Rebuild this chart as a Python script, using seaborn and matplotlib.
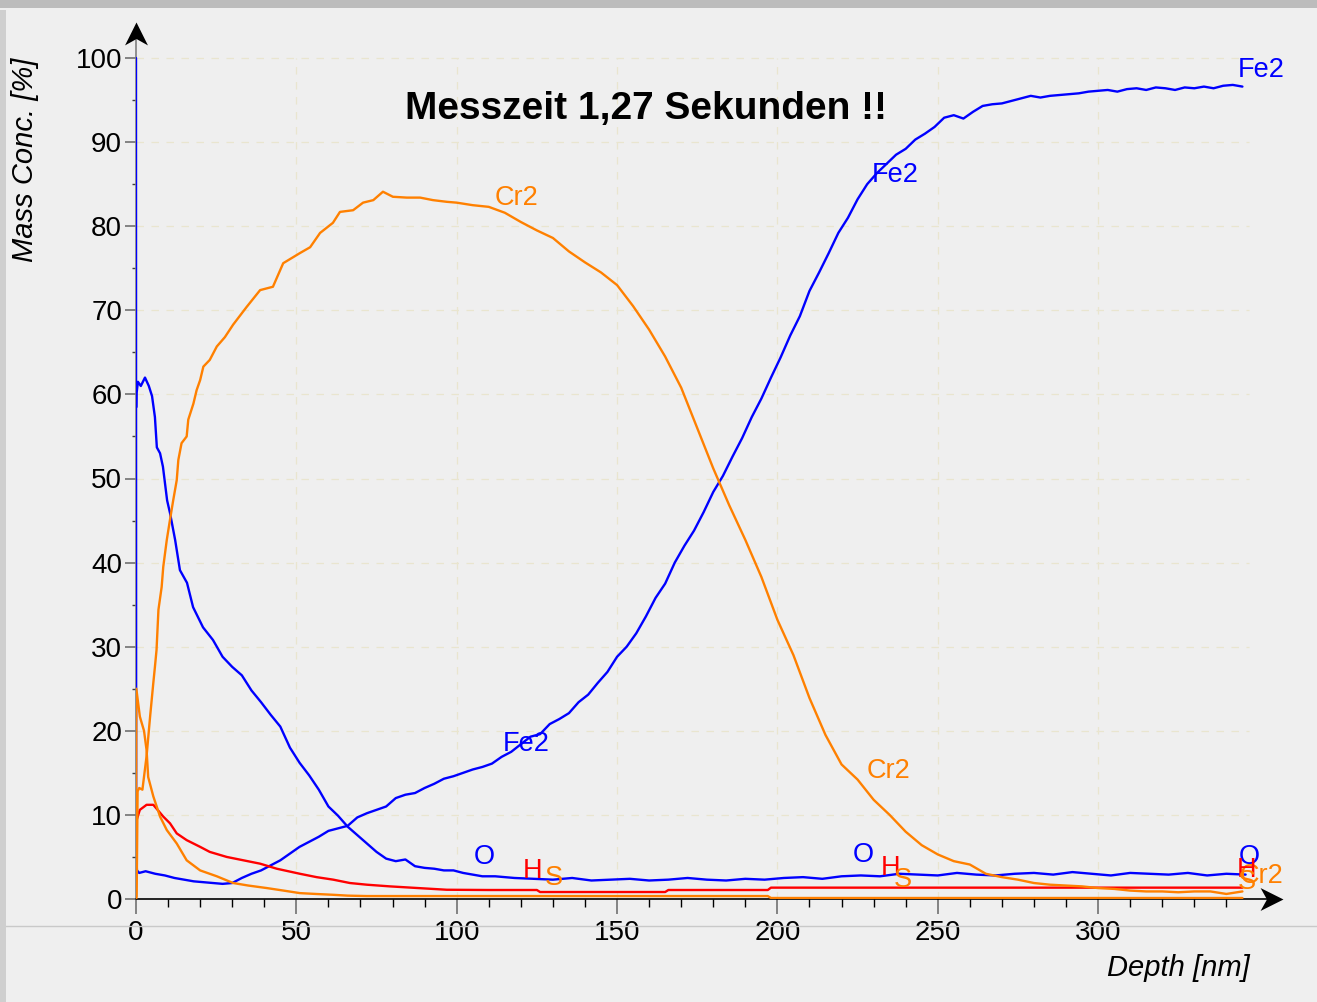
import numpy as np
import pandas as pd
import seaborn as sns
import matplotlib.pyplot as plt
from matplotlib.patches import Rectangle
from matplotlib.lines import Line2D
from matplotlib.path import Path

# ---------------- data: GDOES depth profile (mass concentration, %) ----------------
fe2_depth = [0, 0.05, 0.3, 1, 3] + list(range(6, 346, 3))
fe2_conc = [100, 5.2, 3.4, 3.1, 3.3,
            3.0, 2.8, 2.5, 2.3, 2.1, 2.0, 1.9, 1.8, 1.9, 2.5,
            3.0, 3.4, 4.0, 4.6, 5.4, 6.2, 6.8, 7.4, 8.1, 8.4,
            8.7, 9.7, 10.2, 10.6, 11.0, 12.0, 12.4, 12.6, 13.2, 13.7,
            14.3, 14.6, 15.0, 15.4, 15.7, 16.1, 16.9, 17.5, 18.4, 19.3,
            19.6, 20.8, 21.4, 22.1, 23.4, 24.3, 25.7, 27.0, 28.8, 30.0,
            31.6, 33.6, 35.8, 37.5, 40.0, 42.0, 43.8, 46.0, 48.4, 50.3,
            52.6, 54.8, 57.3, 59.5, 62.0, 64.4, 67.0, 69.3, 72.3, 74.5,
            76.8, 79.2, 81.0, 83.2, 85.0, 86.3, 87.4, 88.5, 89.2, 90.3,
            91.0, 91.8, 92.9, 93.2, 92.8, 93.6, 94.3, 94.5, 94.6, 94.9,
            95.2, 95.5, 95.3, 95.5, 95.6, 95.7, 95.8, 96.0, 96.1, 96.2,
            96.0, 96.3, 96.4, 96.2, 96.5, 96.4, 96.2, 96.5, 96.4, 96.6,
            96.4, 96.7, 96.8, 96.6]

o_depth = ([0.15, 0.2, 0.6, 1.5, 2.8, 4.0, 5.0, 5.9, 6.5, 7.5, 8.4, 9.7, 10.6,
            12.2, 13.7, 15.9, 17.8, 20.9, 24]
           + list(range(27, 109, 3)) + list(range(112, 347, 6)))
o_conc = [58.5, 60.2, 61.5, 61.0, 62.0, 61.0, 59.8, 57.3, 53.7, 53.0, 51.4, 47.4, 45.9,
          42.7, 39.1, 37.6, 34.7, 32.3, 30.8,
          28.8, 27.6, 26.6, 24.8, 23.4, 21.9, 20.5, 18.0, 16.2, 14.7,
          13.0, 11.0, 9.9, 8.6, 7.6, 6.6, 5.6, 4.8, 4.5, 4.7,
          3.9, 3.7, 3.6, 3.4, 3.4, 3.1, 2.9, 2.7,
          2.7, 2.5, 2.4, 2.3, 2.5, 2.2, 2.3, 2.4, 2.2, 2.3,
          2.5, 2.3, 2.2, 2.4, 2.3, 2.5, 2.6, 2.4, 2.7, 2.8,
          2.7, 3.0, 2.9, 2.8, 3.1, 2.9, 2.8, 3.0, 3.1, 2.9,
          3.2, 3.0, 2.8, 3.1, 3.0, 2.9, 3.1, 2.8, 3.0, 2.9]

cr2_depth = ([0, 0.2, 0.5, 1.0, 2.0, 3.3, 4.4, 5.4, 5.9, 6.4, 7.0, 8.0, 8.5, 9.6,
              10.6, 11.6, 12.7, 13.2, 14.2, 15.8, 16.3, 17.9, 18.9, 20.0, 21.0,
              23.0, 25.2, 27.7, 30.3, 34.5, 38.7, 42.7, 45.9, 51.1, 54.3, 57.4,
              61.4, 63.6, 67.7, 70.8, 74.0, 77.0, 80.1, 84.4, 88.6, 92.6, 96.9]
             + list(range(100, 346, 5)))
cr2_conc = [0, 0.3, 12.8, 13.2, 13.0, 17.0, 21.7, 25.7, 27.6, 29.6,
            34.4, 37.1, 39.5, 42.7, 45.1, 47.4, 49.8, 52.2, 54.2, 55.0,
            57.0, 58.9, 60.5, 61.7, 63.3, 64.1, 65.7, 66.8, 68.3, 70.4,
            72.4, 72.8, 75.6, 76.8, 77.5, 79.2, 80.4, 81.7, 81.9, 82.8,
            83.1, 84.1, 83.5, 83.4, 83.4, 83.1, 82.9,
            82.8, 82.5, 82.3, 81.6, 80.5, 79.5, 78.6, 77.0, 75.7, 74.5,
            73.0, 70.5, 67.7, 64.5, 60.8, 56.0, 51.2, 46.8, 42.7, 38.3,
            33.2, 29.0, 23.9, 19.5, 16.0, 14.2, 11.8, 10.0, 8.0, 6.4,
            5.3, 4.5, 4.1, 3.0, 2.6, 2.3, 1.9, 1.7, 1.6, 1.5,
            1.3, 1.2, 1.0, 0.9, 0.9, 0.8, 0.9, 0.9, 0.6, 0.9]

h_depth = [0, 0.2, 1.2, 3.3, 5.4, 8.5, 10.6, 12.7, 15.8, 20, 23, 28.3, 33.5, 38.7,
           43.9, 51.1, 56.3, 61.5, 66.7, 72, 79.2, 88, 96.9, 110, 125, 126, 165,
           166, 197, 198, 345]
h_conc = [8.8, 9.4, 10.6, 11.2, 11.2, 9.8, 9.0, 7.8, 7.0, 6.2, 5.6, 5.0, 4.6, 4.2,
          3.6, 3.0, 2.6, 2.3, 1.9, 1.7, 1.5, 1.3, 1.1, 1.07, 1.07, 0.83, 0.83,
          1.07, 1.07, 1.35, 1.35]

s_depth = [0, 0.1, 1.2, 1.5, 2.5, 3.3, 3.8, 5.4, 7.5, 9.6, 12.7, 15.8, 20, 25.2,
           30.3, 35, 40.8, 46, 51.1, 56, 61.5, 66, 71.9, 100, 150, 197, 198, 345]
s_conc = [0, 25.0, 21.7, 21.3, 20.0, 17.7, 14.5, 12.2, 9.8, 8.2, 6.6, 4.6, 3.4, 2.7,
          1.9, 1.6, 1.3, 1.0, 0.7, 0.6, 0.5, 0.4, 0.35, 0.35, 0.35, 0.35, 0.12, 0.12]

elements = ["Fe2", "O", "H", "Cr2", "S"]
element_colors = {"Fe2": "#0000ff", "O": "#0000ff", "H": "#ff0000",
                  "Cr2": "#ff8000", "S": "#ff8000"}

# element labels written along the curves: (name, depth, conc)
curve_labels = [("Fe2", 350.8, 98.6), ("Fe2", 236.7, 86.1), ("Fe2", 121.8, 18.4),
                ("Cr2", 118.5, 83.4), ("Cr2", 234.5, 15.2), ("Cr2", 350.8, 2.7),
                ("O", 108.5, 5.0), ("O", 226.7, 5.2), ("O", 347.1, 5.0),
                ("H", 123.8, 3.3), ("H", 235.4, 3.7), ("H", 346.4, 3.4),
                ("S", 130.3, 2.5), ("S", 239.2, 2.3), ("S", 346.4, 2.0)]

x_major = [0, 50, 100, 150, 200, 250, 300]
y_major = list(range(0, 101, 10))
title_text = "Messzeit 1,27 Sekunden !!"

frames = []
for name, d, c in [("Fe2", fe2_depth, fe2_conc), ("O", o_depth, o_conc),
                   ("H", h_depth, h_conc), ("Cr2", cr2_depth, cr2_conc),
                   ("S", s_depth, s_conc)]:
    frames.append(pd.DataFrame({"depth": d, "conc": c, "element": name}))
profile = pd.concat(frames, ignore_index=True)

# ---------------- figure ----------------
sns.set_theme(style="white")
plt.rcParams["font.family"] = ["Liberation Sans", "DejaVu Sans"]
plt.rcParams["text.color"] = "black"
plt.rcParams["xtick.labelcolor"] = "black"
plt.rcParams["ytick.labelcolor"] = "black"

BG = "#efefef"
W_PX, H_PX = 1317, 1002
fig = plt.figure(figsize=(W_PX / 100, H_PX / 100), dpi=100, facecolor=BG)

# window-like frame details
fig.patches.append(Rectangle((0, 1 - 8 / H_PX), 1, 8 / H_PX, transform=fig.transFigure,
                             facecolor="#bcbcbc", edgecolor="none", zorder=0))
fig.patches.append(Rectangle((0, 0), 6 / W_PX, 1 - 10 / H_PX, transform=fig.transFigure,
                             facecolor="#cfcfcf", edgecolor="none", zorder=0))
fig.lines.append(Line2D([0, 1], [1 - 926 / H_PX] * 2, transform=fig.transFigure,
                        color="#c9c9c9", lw=1.0, zorder=0))

XMAX, YMAX = 360, 104
px_per_x, px_per_y = 3.207, 8.41
ax = fig.add_axes([136 / W_PX, (H_PX - 899) / H_PX,
                   XMAX * px_per_x / W_PX, YMAX * px_per_y / H_PX])
ax.set_facecolor(BG)
ax.set_xlim(0, XMAX)
ax.set_ylim(0, YMAX)
for sp in ax.spines.values():
    sp.set_visible(False)

# faint dashed grid inside the data area
grid_kw = dict(colors="#e9e5cf", linestyles=(0, (6, 6)), lw=0.9, zorder=0)
ax.hlines(y_major[1:], 0, 347, **grid_kw)
ax.vlines(x_major[1:], 0, 100, **grid_kw)

sns.lineplot(data=profile, x="depth", y="conc", hue="element", hue_order=elements,
             palette=element_colors, estimator=None, sort=False, legend=False,
             lw=1.7, ax=ax, zorder=3)

# axis lines ending in stealth-style arrowheads
ax.plot([0, 0], [0, 102.5], color="#808080", lw=1.2, clip_on=False, zorder=2)
ax.plot([0, 354], [0, 0], color="black", lw=1.2, clip_on=False, zorder=2)
head_right = Path([(0, 0), (-1, 0.5), (-0.72, 0), (-1, -0.5), (0, 0)],
                  [Path.MOVETO, Path.LINETO, Path.LINETO, Path.LINETO, Path.CLOSEPOLY])
head_up = Path([(0, 0), (0.5, -1), (0, -0.72), (-0.5, -1), (0, 0)],
               [Path.MOVETO, Path.LINETO, Path.LINETO, Path.LINETO, Path.CLOSEPOLY])
ax.plot([357.7], [0], marker=head_right, markersize=33, color="black",
        markeredgewidth=0, clip_on=False, zorder=4)
ax.plot([0], [104.3], marker=head_up, markersize=33, color="black",
        markeredgewidth=0, clip_on=False, zorder=4)

ax.set_xticks(x_major)
ax.set_xticks([v for v in range(10, 350, 10) if v % 50], minor=True)
ax.set_yticks(y_major)
ax.set_yticks(list(range(5, 100, 10)), minor=True)
ax.tick_params(axis="x", which="major", direction="out", length=11, width=1.3,
               color="#7a7a7a", labelsize=20, pad=4, bottom=True, labelcolor="black")
ax.tick_params(axis="x", which="minor", direction="out", length=6, width=1.0,
               color="black", bottom=True)
ax.tick_params(axis="y", which="major", direction="out", length=8, width=1.3,
               color="#7a7a7a", labelsize=20, pad=2, left=True, labelcolor="black")
ax.tick_params(axis="y", which="minor", direction="out", length=3, width=1.0,
               color="#404040", left=True)
ax.set_xlabel("")
ax.set_ylabel("")

for name, x, y in curve_labels:
    ax.text(x, y, name, color=element_colors[name], fontsize=19.5,
            ha="center", va="center", zorder=5)

ax.text(159.0, 93.9, title_text, fontsize=28, fontweight="bold",
        ha="center", va="center", color="black")

fig.text(1250 / W_PX, 1 - 968 / H_PX, "Depth [nm]", fontsize=21, style="italic",
         ha="right", va="center", color="black")
fig.text(25 / W_PX, 1 - 160 / H_PX, "Mass Conc. [%]", fontsize=21, style="italic",
         rotation=90, ha="center", va="center", color="black")

fig.savefig("out.png", dpi=100, facecolor=BG)
